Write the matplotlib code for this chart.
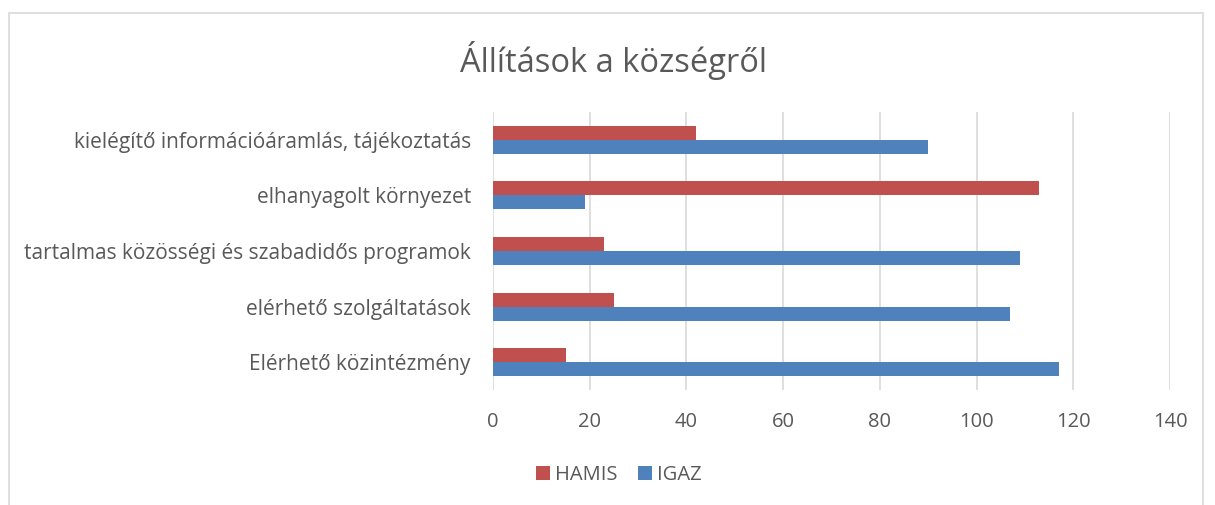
import matplotlib.pyplot as plt
import matplotlib.patches as mpatches
import numpy as np

plt.rcParams['font.family'] = ['Open Sans', 'DejaVu Sans']

# adatok (alulról felfelé)
categories = [
    'Elérhető közintézmény',
    'elérhető szolgáltatások',
    'tartalmas közösségi és szabadidős programok',
    'elhanyagolt környezet',
    'kielégítő információáramlás, tájékoztatás',
]
hamis = [15, 25, 23, 113, 42]
igaz = [117, 107, 109, 19, 90]
x_ticks = [0, 20, 40, 60, 80, 100, 120, 140]

text_color = '#595959'
red = '#C0504D'
blue = '#4F81BD'

fig = plt.figure(figsize=(12.15, 5.05), dpi=100)
ax = fig.add_axes([493 / 1215, 1 - 390 / 505, (1170 - 493) / 1215, (390 - 112) / 505])

y = np.arange(len(categories))
h = 0.25
ax.barh(y + h / 2, hamis, height=h, color=red, label='HAMIS', zorder=3)
ax.barh(y - h / 2, igaz, height=h, color=blue, label='IGAZ', zorder=3)

ax.set_xlim(0, 140)
ax.set_ylim(-0.5, len(categories) - 0.5)
ax.set_xticks(x_ticks)
ax.set_yticks(y)
ax.set_yticklabels(categories)
ax.tick_params(axis='x', length=0, pad=16, labelsize=14.5, colors=text_color)
ax.tick_params(axis='y', length=0, pad=16, labelsize=15, colors=text_color)
ax.grid(axis='x', color='#D9D9D9', linewidth=1.2, zorder=0)
for s in ax.spines.values():
    s.set_visible(False)

fig.text(0.505, 1 - 60 / 505, 'Állítások a községről', ha='center', va='center',
         fontsize=23.5, color=text_color)

fig.legend(loc='center', bbox_to_anchor=(619 / 1215, 1 - 475 / 505), ncol=2, frameon=False,
           fontsize=14.5, labelcolor=text_color, handlelength=0.7, handleheight=0.7,
           handletextpad=0.25, columnspacing=1.0)

# keret
fig.patches.append(mpatches.Rectangle((9 / 1215, -0.05), (1203 - 9) / 1215, 1.05 - 13 / 505,
                                      transform=fig.transFigure, fill=False,
                                      edgecolor='#D9D9D9', linewidth=1.2))

fig.savefig('out.png', dpi=100)
